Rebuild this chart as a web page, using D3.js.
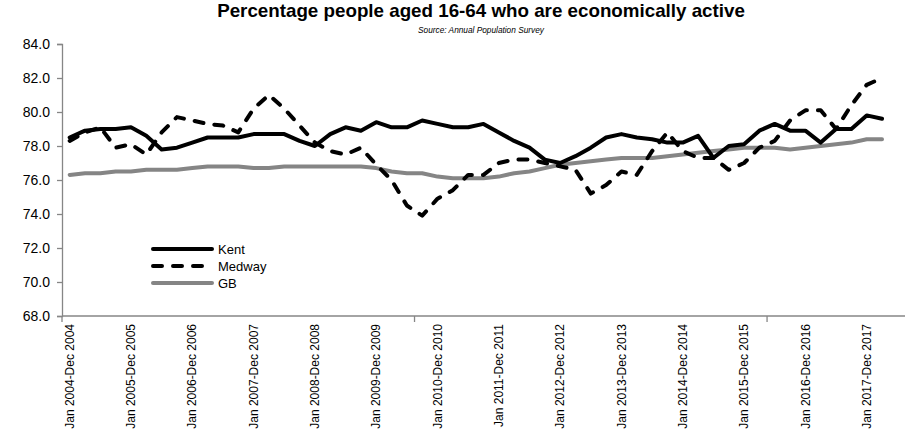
<!DOCTYPE html>
<html>
<head>
<meta charset="utf-8">
<script src="https://cdn.jsdelivr.net/npm/d3@7"></script>
<style>
  html, body { margin: 0; padding: 0; background: #fff; }
  svg { display: block; font-family: "Liberation Sans", Arial, sans-serif; }
</style>
</head>
<body>
<svg id="chart" width="907" height="436"></svg>
<script>
// ---------- data ----------
const categories = [
  "Jan 2004-Dec 2004","Apr 2004-Mar 2005","Jul 2004-Jun 2005","Oct 2004-Sep 2005",
  "Jan 2005-Dec 2005","Apr 2005-Mar 2006","Jul 2005-Jun 2006","Oct 2005-Sep 2006",
  "Jan 2006-Dec 2006","Apr 2006-Mar 2007","Jul 2006-Jun 2007","Oct 2006-Sep 2007",
  "Jan 2007-Dec 2007","Apr 2007-Mar 2008","Jul 2007-Jun 2008","Oct 2007-Sep 2008",
  "Jan 2008-Dec 2008","Apr 2008-Mar 2009","Jul 2008-Jun 2009","Oct 2008-Sep 2009",
  "Jan 2009-Dec 2009","Apr 2009-Mar 2010","Jul 2009-Jun 2010","Oct 2009-Sep 2010",
  "Jan 2010-Dec 2010","Apr 2010-Mar 2011","Jul 2010-Jun 2011","Oct 2010-Sep 2011",
  "Jan 2011-Dec 2011","Apr 2011-Mar 2012","Jul 2011-Jun 2012","Oct 2011-Sep 2012",
  "Jan 2012-Dec 2012","Apr 2012-Mar 2013","Jul 2012-Jun 2013","Oct 2012-Sep 2013",
  "Jan 2013-Dec 2013","Apr 2013-Mar 2014","Jul 2013-Jun 2014","Oct 2013-Sep 2014",
  "Jan 2014-Dec 2014","Apr 2014-Mar 2015","Jul 2014-Jun 2015","Oct 2014-Sep 2015",
  "Jan 2015-Dec 2015","Apr 2015-Mar 2016","Jul 2015-Jun 2016","Oct 2015-Sep 2016",
  "Jan 2016-Dec 2016","Apr 2016-Mar 2017","Jul 2016-Jun 2017","Oct 2016-Sep 2017",
  "Jan 2017-Dec 2017","Apr 2017-Mar 2018","Jul 2017-Jun 2018"
];
const kent = [
  78.5,78.9,79.0,79.0, 79.1,78.6,77.8,77.9, 78.2,78.5,78.5,78.5,
  78.7,78.7,78.7,78.3, 78.0,78.7,79.1,78.9, 79.4,79.1,79.1,79.5,
  79.3,79.1,79.1,79.3, 78.8,78.3,77.9,77.2, 77.0,77.4,77.9,78.5,
  78.7,78.5,78.4,78.2, 78.2,78.6,77.3,78.0, 78.1,78.9,79.3,78.9,
  78.9,78.2,79.0,79.0, 79.8,79.6
];
const medway = [
  78.3,78.8,79.1,77.9, 78.1,77.5,78.8,79.7, 79.5,79.3,79.2,78.8,
  80.2,81.0,80.2,79.2, 78.2,77.7,77.5,77.9, 76.9,76.0,74.5,73.9,
  74.9,75.4,76.3,76.3, 77.0,77.2,77.2,77.0, 76.8,76.6,75.2,75.7,
  76.5,76.3,77.7,78.8, 77.7,77.3,77.3,76.6, 77.0,77.9,78.3,79.5,
  80.1,80.1,79.0,80.4, 81.6,82.0
];
const gb = [
  76.3,76.4,76.4,76.5, 76.5,76.6,76.6,76.6, 76.7,76.8,76.8,76.8,
  76.7,76.7,76.8,76.8, 76.8,76.8,76.8,76.8, 76.7,76.5,76.4,76.4,
  76.2,76.1,76.1,76.1, 76.2,76.4,76.5,76.7, 76.9,77.0,77.1,77.2,
  77.3,77.3,77.3,77.4, 77.5,77.6,77.7,77.8, 77.9,77.9,77.9,77.8,
  77.9,78.0,78.1,78.2, 78.4,78.4
];
const yTicks = [68, 70, 72, 74, 76, 78, 80, 82, 84];
const seriesNames = ["Kent", "Medway", "GB"];
const titleText = "Percentage people aged 16-64 who are economically active";
const subtitleText = "Source: Annual Population Survey";

(function draw() {
  // ---------- layout ----------
  const W = 907, H = 436;
  const padL = 62, padR = 905, padT = 44, padB = 316;
  const axisColor = "#868686";

  const svg = d3.select("#chart");
  svg.append("rect").attr("width", W).attr("height", H).attr("fill", "#fff");

  const x = d3.scaleBand().domain(categories).range([padL, padR]).padding(0);
  const y = d3.scaleLinear().domain([68, 84]).range([padB, padT]);
  const cx = c => x(c) + x.bandwidth() / 2;

  function fitText(sel, target) {
    const len = sel.node().getComputedTextLength();
    const fs = parseFloat(sel.attr("font-size"));
    if (len > 0) sel.attr("font-size", (fs * target / len).toFixed(2));
  }

  // title
  const t = svg.append("text").attr("x", 481).attr("y", 17).attr("text-anchor", "middle")
    .attr("font-weight", "bold").attr("font-size", 16).attr("fill", "#000").text(titleText);
  fitText(t, 528);
  const st = svg.append("text").attr("x", 481).attr("y", 33).attr("text-anchor", "middle")
    .attr("font-style", "italic").attr("font-size", 10).attr("fill", "#000").text(subtitleText);
  fitText(st, 126);

  // y axis
  const yAxis = d3.axisLeft(y).tickValues(yTicks).tickFormat(d3.format(".1f")).tickSize(5).tickPadding(7);
  const gy = svg.append("g").attr("transform", `translate(${padL},0)`).call(yAxis);
  gy.select(".domain").attr("stroke", axisColor).attr("stroke-width", 1.3);
  gy.selectAll(".tick line").attr("stroke", axisColor).attr("stroke-width", 1.3);
  gy.selectAll(".tick text").attr("font-size", 14).attr("fill", "#000")
    .attr("font-family", "'Liberation Sans', Arial, sans-serif");

  // x axis line
  svg.append("line").attr("x1", padL).attr("x2", padR).attr("y1", padB).attr("y2", padB)
    .attr("stroke", axisColor).attr("stroke-width", 1.3);
  // x tick marks every 23 categories (at category boundaries)
  const tickCats = categories.filter((c, i) => i % 23 === 0);
  svg.selectAll(".xtick").data(tickCats).enter().append("line")
    .attr("x1", d => x(d)).attr("x2", d => x(d))
    .attr("y1", padB).attr("y2", padB + 6)
    .attr("stroke", axisColor).attr("stroke-width", 1.3);
  // x labels every 4 categories
  const labelCats = categories.filter((c, i) => i % 4 === 0 && i <= 52);
  svg.selectAll(".xlab").data(labelCats).enter().append("text")
    .attr("transform", d => `translate(${cx(d)},${padB + 8}) rotate(-90)`)
    .attr("text-anchor", "end").attr("dy", "0.35em")
    .attr("font-size", 12).attr("fill", "#000").text(d => d);

  // lines
  const line = d3.line().x((d, i) => cx(categories[i])).y(d => y(d));
  const styles = {
    Kent:   { color: "#000", dash: null },
    Medway: { color: "#000", dash: "9,11" },
    GB:     { color: "#858585", dash: null }
  };
  const dataBy = { Kent: kent, Medway: medway, GB: gb };
  ["GB", "Medway", "Kent"].forEach(name => {
    svg.append("path").datum(dataBy[name]).attr("d", line)
      .attr("fill", "none").attr("stroke", styles[name].color).attr("stroke-width", 4)
      .attr("stroke-linejoin", "round").attr("stroke-linecap", "round")
      .attr("stroke-dasharray", styles[name].dash);
  });

  // legend
  const legY = [249, 266, 283];
  seriesNames.forEach((name, i) => {
    svg.append("line").attr("x1", 153).attr("x2", 212).attr("y1", legY[i]).attr("y2", legY[i])
      .attr("stroke", styles[name].color).attr("stroke-width", 4).attr("stroke-linecap", "round")
      .attr("stroke-dasharray", styles[name].dash);
    svg.append("text").attr("x", 218).attr("y", legY[i]).attr("dy", "0.35em")
      .attr("font-size", 13).attr("fill", "#000").text(name);
  });
})();
</script>
</body>
</html>
